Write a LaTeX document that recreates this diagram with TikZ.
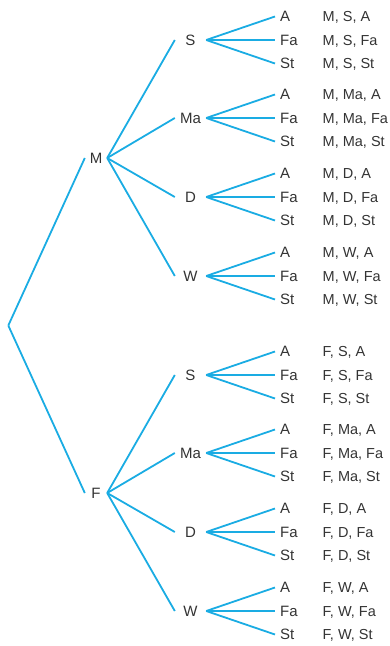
\documentclass[tikz,border=0pt]{standalone}
\usepackage{fontspec}
\setmainfont{Liberation Sans}
\definecolor{branchcol}{HTML}{1AACE3}
\definecolor{txtcol}{HTML}{333333}
\begin{document}
\begin{tikzpicture}[x=1pt,y=-1pt,
  lbl/.style={font=\fontsize{15}{18}\selectfont, text=txtcol, text height=10.7pt, text depth=0pt, inner sep=0pt},
  lvlone/.style={lbl, minimum width=22pt, anchor=center},
  lvltwo/.style={lbl, minimum width=31pt, anchor=center},
  leaf/.style={lbl, anchor=west, inner xsep=5pt},
  outcome/.style={lbl, font=\fontsize{14.5}{18}\selectfont, anchor=west},
  branch/.style={draw=branchcol, line width=1.8pt}]
\useasboundingbox (0,0) rectangle (389,646);
\coordinate (root) at (8.3,325.5);
\foreach \a/\ay in {M/158,F/493}{
  \node[lvlone] (\a) at (96,\ay) {\a};
  \draw[branch] (root) -- (\a.west);
  \foreach \b/\dy in {S/-118, Ma/-40, D/39, W/118}{
    \node[lvltwo] (\a\b) at (190.5,\ay+\dy) {\b};
    \draw[branch] (\a.east) -- (\a\b.west);
    \foreach \c/\ey in {A/-23.5, Fa/0, St/23.5}{
      \node[leaf] (\a\b\c) at (275,\ay+\dy+\ey) {\c};
      \node[outcome] (o\a\b\c) at (322.5,\ay+\dy+\ey) {\a, \b, \c};
      \draw[branch] (\a\b.east) -- (\a\b\c.west);
    }
  }
}
\end{tikzpicture}
\end{document}
